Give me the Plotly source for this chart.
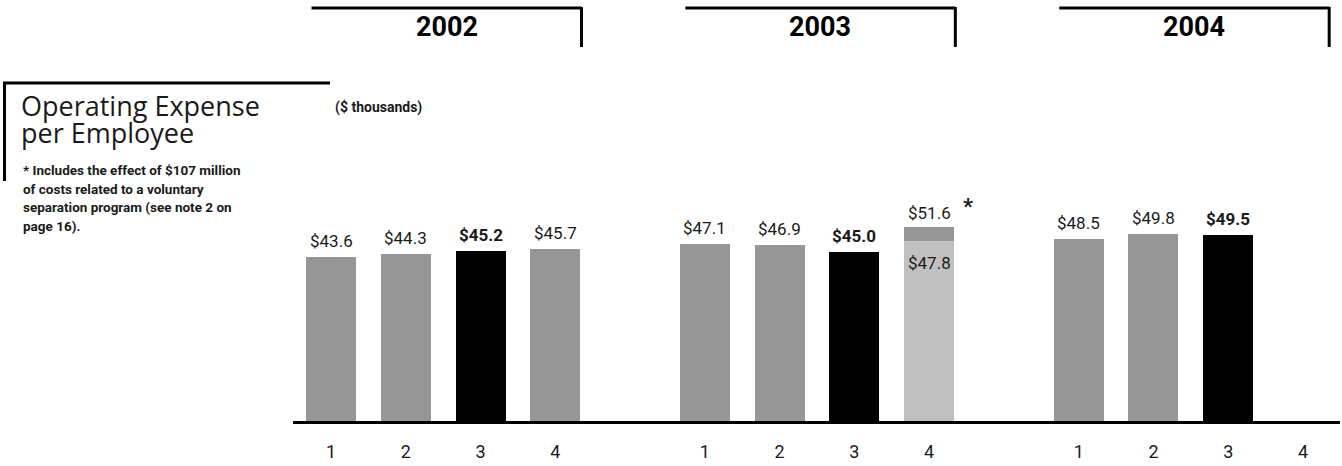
import plotly.graph_objects as go

# ---------------- data ----------------
years = ["2002", "2003", "2004"]
quarters = ["1", "2", "3", "4"]
values_2002 = [43.6, 44.3, 45.2, 45.7]
values_2003 = [47.1, 46.9, 45.0, 47.8]   # Q4 2003 shown excluding separation program
values_2004 = [48.5, 49.8, 49.5, None]   # Q4 2004 not yet reported
q4_2003_total = 51.6                     # Q4 2003 including separation program
highlight_quarter = "3"
title_lines = ["Operating Expense", "per Employee"]
unit_label = "($ thousands)"
footnote_lines = [
    "* Includes the effect of $107 million",
    "of costs related to a voluntary",
    "separation program (see note 2 on",
    "page 16).",
]

# ---------------- layout constants ----------------
W, H = 1342, 466
ML, MR, MT, MB = 293, 2, 60, 45
PW, PH = W - ML - MR, H - MT - MB
SLOT_PX = 74.77
CENTER0_PX = 331
PX_PER_UNIT = 3.76
GROUP_GAP = 5  # slots per year group (4 bars + 1 empty)

NARROW = "Roboto, Liberation Sans, sans-serif"
TITLE_FONT = "Open Sans, Lato, sans-serif"
GRAY = "#969696"
LIGHT = "#c0c0c0"
BLACK = "#000000"
TEXT = "#1a1a1a"


def xp(px):  # pixel -> paper x
    return (px - ML) / PW


def yp(py):  # pixel -> paper y
    return (H - MB - py) / PH


series = [values_2002, values_2003, values_2004]

xs, ys, colors, labels, bolds = [], [], [], [], []
for gi, vals in enumerate(series):
    for qi, v in enumerate(vals):
        pos = gi * GROUP_GAP + qi
        if v is None:
            continue
        xs.append(pos)
        ys.append(v)
        is_hi = quarters[qi] == highlight_quarter
        is_special = (years[gi] == "2003" and quarters[qi] == "4")
        colors.append(BLACK if is_hi else (LIGHT if is_special else GRAY))
        labels.append(v)
        bolds.append(is_hi)

fig = go.Figure()
fig.add_trace(go.Bar(x=xs, y=ys, marker=dict(color=colors, line=dict(width=0)),
                     width=0.669, hoverinfo="skip", showlegend=False))

# separation program segment on Q4 2003
sp_pos = years.index("2003") * GROUP_GAP + 3
sp_base = values_2003[3]
fig.add_trace(go.Bar(x=[sp_pos], y=[q4_2003_total - sp_base], base=[sp_base],
                     marker=dict(color=GRAY, line=dict(width=0)),
                     width=0.669, hoverinfo="skip", showlegend=False))

LABEL_SIZE = 17
annotations = []
# value labels
for x, v, b in zip(xs, labels, bolds):
    if x == sp_pos:
        continue
    t = f"${v:.1f}"
    annotations.append(dict(x=x, y=v, xref="x", yref="y", text=f"<b>{t}</b>" if b else t,
                            showarrow=False, yanchor="middle", yshift=16,
                            font=dict(family=NARROW, size=LABEL_SIZE, color=TEXT)))
# Q4 2003 labels
annotations.append(dict(x=sp_pos, y=q4_2003_total, xref="x", yref="y", text=f"${q4_2003_total:.1f}",
                        showarrow=False, yanchor="middle", yshift=14,
                        font=dict(family=NARROW, size=LABEL_SIZE, color=TEXT)))
annotations.append(dict(x=sp_pos, y=sp_base, xref="x", yref="y", text=f"${sp_base:.1f}",
                        showarrow=False, yanchor="middle", yshift=-22,
                        font=dict(family=NARROW, size=LABEL_SIZE, color=TEXT)))
annotations.append(dict(x=sp_pos, y=q4_2003_total, xref="x", yref="y", text="<b>*</b>",
                        showarrow=False, yanchor="middle", xshift=39, yshift=20,
                        font=dict(family=NARROW, size=22, color=TEXT)))

shapes = []
# year headers
for gi, yr in enumerate(years):
    x0 = gi * GROUP_GAP - 0.26
    x1 = gi * GROUP_GAP + 3.35
    shapes.append(dict(type="line", xref="x", yref="paper", x0=x0, x1=x1, y0=yp(8), y1=yp(8),
                       line=dict(color=BLACK, width=3)))
    shapes.append(dict(type="line", xref="x", yref="paper", x0=x1, x1=x1, y0=yp(7), y1=yp(47),
                       line=dict(color=BLACK, width=3)))
    annotations.append(dict(x=(x0 + x1) / 2, y=yp(27), xref="x", yref="paper", text=f"<b>{yr}</b>",
                            showarrow=False, yanchor="middle",
                            font=dict(family=NARROW, size=27, color=BLACK)))

# title box lines
shapes.append(dict(type="line", xref="paper", yref="paper", x0=xp(3), x1=xp(330), y0=yp(83), y1=yp(83),
                   line=dict(color=BLACK, width=3)))
shapes.append(dict(type="line", xref="paper", yref="paper", x0=xp(4.5), x1=xp(4.5), y0=yp(82), y1=yp(181),
                   line=dict(color=BLACK, width=3)))

# title
for i, line in enumerate(title_lines):
    annotations.append(dict(x=xp(19), y=yp(105 + 27 * i), xref="paper", yref="paper", text=line,
                            showarrow=False, xanchor="left", yanchor="middle",
                            font=dict(family=TITLE_FONT, size=27, color=TEXT)))
# unit label
annotations.append(dict(x=xp(378), y=yp(108), xref="paper", yref="paper", text=f"<b>{unit_label}</b>",
                        showarrow=False, xanchor="center", yanchor="middle",
                        font=dict(family=NARROW, size=14, color=TEXT)))
# footnote
for i, line in enumerate(footnote_lines):
    annotations.append(dict(x=xp(21), y=yp(170 + 18.7 * i), xref="paper", yref="paper",
                            text=f"<b>{line}</b>", showarrow=False, xanchor="left", yanchor="middle",
                            font=dict(family=NARROW, size=13.5, color=TEXT)))

tick_pos = [gi * GROUP_GAP + qi for gi in range(len(years)) for qi in range(len(quarters))]
tick_txt = [q for _ in years for q in quarters]

x_left = (ML - CENTER0_PX) / SLOT_PX
x_right = (W - MR - CENTER0_PX) / SLOT_PX
y_top = PH / PX_PER_UNIT

fig.update_layout(
    width=W, height=H,
    margin=dict(l=ML, r=MR, t=MT, b=MB),
    paper_bgcolor="white", plot_bgcolor="white",
    barmode="overlay", bargap=0,
    xaxis=dict(range=[x_left, x_right], tickvals=tick_pos, ticktext=tick_txt,
               showgrid=False, zeroline=False, showline=True, linecolor=BLACK, linewidth=3,
               ticks="outside", ticklen=12, tickcolor="rgba(0,0,0,0)",
               tickfont=dict(family=NARROW, size=18, color=TEXT), fixedrange=True),
    yaxis=dict(range=[0, y_top], visible=False, fixedrange=True),
    shapes=shapes, annotations=annotations,
    showlegend=False,
)

fig.write_html("out.html", config={"displayModeBar": False},
               post_script="document.body.style.margin='0px';document.body.style.overflow='hidden';")
